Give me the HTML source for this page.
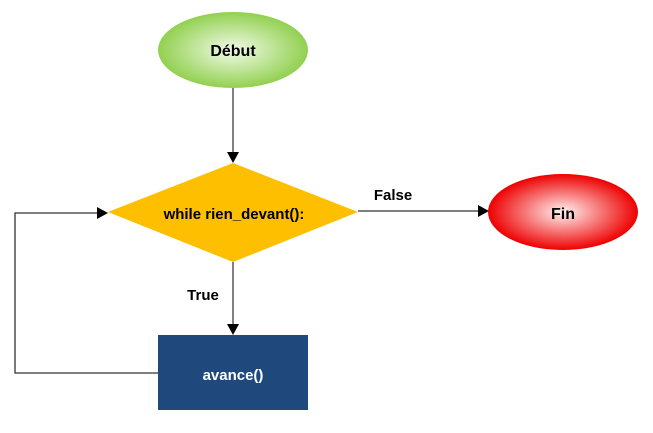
<!DOCTYPE html>
<html><head><meta charset="utf-8"><style>
html,body{margin:0;padding:0;background:#fff;}
svg{display:block;}
text{font-family:"Liberation Sans",sans-serif;font-weight:bold;}
</style></head><body>
<svg width="653" height="433" viewBox="0 0 653 433" xmlns="http://www.w3.org/2000/svg">
<defs>
<radialGradient id="g" cx="50%" cy="50%" r="50%">
<stop offset="0" stop-color="#f2fbe9"/><stop offset="1" stop-color="#92d050"/></radialGradient>
<radialGradient id="r" cx="50%" cy="50%" r="50%">
<stop offset="0" stop-color="#fff2f2"/><stop offset="1" stop-color="#ee0000"/></radialGradient>
</defs>
<ellipse cx="233" cy="50" rx="75" ry="38" fill="url(#g)"/>
<text x="233" y="56" font-size="16" text-anchor="middle">Début</text>
<line x1="233" y1="88" x2="233" y2="152" stroke="#555" stroke-width="1.5"/>
<polygon points="227,152 239,152 233,163" fill="#000"/>
<polygon points="108,212 233,163 358,212 233,262" fill="#fdbf00"/>
<text x="234" y="219" font-size="15" text-anchor="middle">while rien_devant():</text>
<line x1="358" y1="211" x2="478" y2="211" stroke="#555" stroke-width="1.5"/>
<polygon points="478,205 478,217 489,211" fill="#000"/>
<text x="393" y="200" font-size="15" text-anchor="middle">False</text>
<ellipse cx="563" cy="212" rx="75" ry="38" fill="url(#r)"/>
<text x="563" y="219" font-size="16" text-anchor="middle">Fin</text>
<line x1="233" y1="262" x2="233" y2="324" stroke="#555" stroke-width="1.5"/>
<polygon points="227,324 239,324 233,335" fill="#000"/>
<text x="203" y="300" font-size="15" text-anchor="middle">True</text>
<rect x="158" y="335" width="150" height="75" fill="#1f497d"/>
<text x="233" y="380" font-size="15" text-anchor="middle" fill="#fff">avance()</text>
<polyline points="158,373 15,373 15,213 97,213" fill="none" stroke="#333" stroke-width="1.3"/>
<polygon points="97,207 97,219 108,213" fill="#000"/>
</svg>
</body></html>
